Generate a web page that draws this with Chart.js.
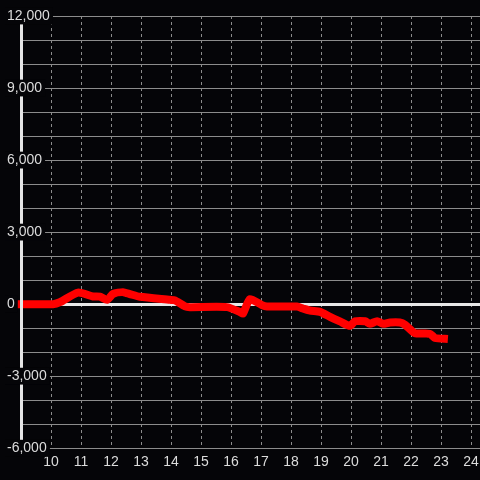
<!DOCTYPE html>
<html>
<head>
<meta charset="utf-8">
<style>
  html, body { margin: 0; padding: 0; background: #050508; }
  #wrap { width: 480px; height: 480px; }
</style>
<script src="https://cdn.jsdelivr.net/npm/chart.js@4/dist/chart.umd.min.js"></script>
</head>
<body>
<div id="wrap"><canvas id="c" width="480" height="480"></canvas></div>
<script>
// Data
const hours = [8.85, 10.07, 10.3, 10.9, 11.4, 11.63, 11.87, 12.07, 12.4, 12.63, 12.97, 13.97, 14.13, 14.47, 14.63, 15.87, 16.3, 16.4, 16.63, 17.03, 17.2, 18.2, 18.4, 18.63, 18.97, 19.3, 19.63, 19.97, 20.13, 20.47, 20.63, 20.87, 21.07, 21.3, 21.63, 21.8, 22.13, 22.63, 22.8, 23.23];
const values = [0, 0, 80, 480, 320, 310, 180, 430, 500, 420, 305, 180, 155, -96, -125, -125, -330, -390, 210, -40, -100, -100, -180, -265, -320, -530, -720, -905, -715, -710, -820, -710, -820, -765, -765, -855, -1210, -1235, -1410, -1450];
const xTicks = [10, 11, 12, 13, 14, 15, 16, 17, 18, 19, 20, 21, 22, 23, 24];
const yLabelTicks = [-6000, -3000, 0, 3000, 6000, 9000, 12000];

const BG = '#050508';
const TEXT = '#dcdcdc';

const points = hours.map((h, i) => ({ x: h, y: values[i] }));
const isLabeled = ctx => !!(ctx.tick && yLabelTicks.includes(ctx.tick.value));

const borderOnTop = {
  id: 'borderOnTop',
  afterDatasetsDraw(chart) {
    const y = chart.scales.y;
    if (typeof y.drawBorder === 'function') y.drawBorder();
    if (typeof y.drawLabels === 'function') y.drawLabels(chart.chartArea);
  }
};

new Chart(document.getElementById('c'), {
  type: 'line',
  data: {
    datasets: [{
      data: points,
      borderColor: '#ff0000',
      borderWidth: 8,
      tension: 0.2,
      borderJoinStyle: 'round',
      pointRadius: 0,
      fill: false,
      clip: 4
    }]
  },
  options: {
    responsive: false,
    animation: false,
    devicePixelRatio: 1,
    layout: { padding: { left: 21, top: 16, right: 0, bottom: 3 } },
    plugins: { legend: { display: false }, tooltip: { enabled: false } },
    scales: {
      x: {
        type: 'linear',
        min: 9,
        max: 24.3,
        afterBuildTicks(scale) { scale.ticks = xTicks.map(v => ({ value: v })); },
        afterFit(scale) { scale.paddingRight = 0; scale.paddingLeft = 0; },
        grid: { color: '#8c8c8c', lineWidth: 1, drawTicks: false },
        border: { display: false, dash: [3, 3] },
        ticks: {
          color: TEXT,
          font: { family: 'Liberation Sans, Arial, sans-serif', size: 14 },
          padding: 6,
          maxRotation: 0,
          autoSkip: false
        }
      },
      y: {
        type: 'linear',
        min: -6000,
        max: 12000,
        afterBuildTicks(scale) {
          const t = [];
          for (let v = -6000; v <= 12000; v += 1000) t.push({ value: v });
          scale.ticks = t;
        },
        afterFit(scale) { scale.width = 0; },
        grid: {
          drawTicks: false,
          color: ctx => (ctx.tick && ctx.tick.value === 0) ? '#e8e8e8' : '#8c8c8c',
          lineWidth: ctx => (ctx.tick && ctx.tick.value === 0) ? 3 : 1
        },
        border: { display: true, color: '#e6e6e6', width: 3 },
        ticks: {
          color: TEXT,
          font: { family: 'Liberation Sans, Arial, sans-serif', size: 14 },
          mirror: true,
          padding: -14,
          autoSkip: false,
          showLabelBackdrop: isLabeled,
          backdropColor: ctx => isLabeled(ctx) ? BG : 'rgba(0,0,0,0)',
          backdropPadding: { top: 0, bottom: 0, left: 2, right: 3 },
          callback: v => yLabelTicks.includes(v) ? v.toLocaleString('en-US') : ''
        }
      }
    }
  },
  plugins: [borderOnTop]
});
</script>
</body>
</html>
